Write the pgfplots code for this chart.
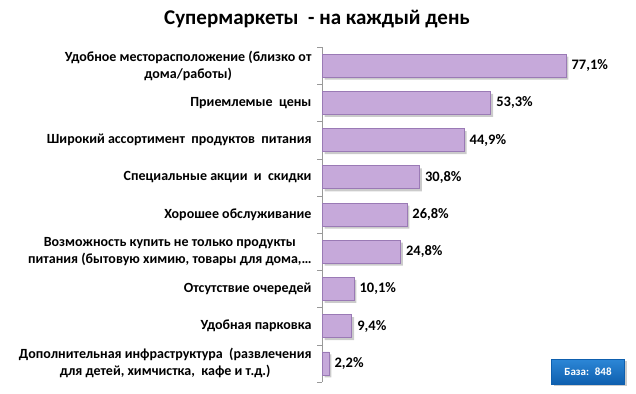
\documentclass[border=0pt]{standalone}
\usepackage{fontspec}
\setmainfont{Carlito}
\usepackage{pgfplots}
\pgfplotsset{compat=1.18}
\definecolor{barfill}{HTML}{C6A9DA}
\definecolor{baredge}{HTML}{9A7AB5}
\definecolor{boxtop}{HTML}{2C86D6}
\definecolor{boxbot}{HTML}{0E5FAE}
\pgfplotstableread{
y x lab
0 77.1 77,1\%
1 53.3 53,3\%
2 44.9 44,9\%
3 30.8 30,8\%
4 26.8 26,8\%
5 24.8 24,8\%
6 10.1 10,1\%
7 9.4 9,4\%
8 2.2 2,2\%
}\datatable
\begin{document}
\begin{tikzpicture}
\path[use as bounding box] (0pt,0pt) rectangle (636pt,393pt);
\node[font=\bfseries\fontsize{21}{25}\selectfont] at (317pt,374pt) {Супермаркеты \ - на каждый день};
\begin{axis}[
  at={(322pt,11pt)}, anchor=south west,
  scale only axis, width=300pt, height=335pt,
  xmin=0, xmax=94.8, ymin=-0.5, ymax=8.5, y dir=reverse,
  axis x line=none, axis y line*=left,
  axis line style={draw=gray!80, -},
  ytick={0,1,2,3,4,5,6,7,8},
  yticklabels={
    {Удобное месторасположение (близко от\\дома/работы)},
    {Приемлемые \ цены},
    {Широкий ассортимент \ продуктов \ питания},
    {Специальные акции \ и \ скидки},
    {Хорошее обслуживание},
    {Возможность купить не только продукты\\питания (бытовую химию, товары для дома,\ldots},
    {Отсутствие очередей},
    {Удобная парковка},
    {Дополнительная инфраструктура \ (развлечения\\для детей, химчистка, \ кафе и т.д.)}},
  major tick length=0pt,
  minor ytick={-0.5,0.5,1.5,2.5,3.5,4.5,5.5,6.5,7.5,8.5},
  minor tick length=5pt, tick align=outside,
  minor tick style={draw=gray!80},
  yticklabel style={font=\bfseries\fontsize{14}{17}\selectfont, align=center, text=black, xshift=-7pt},
  clip=false,
]
\addplot[xbar, bar width=23pt, bar shift=0pt, fill=black!45, draw=none, opacity=0.45, xshift=2.5pt, yshift=-2.5pt] table[x=x, y=y] {\datatable};
\addplot[xbar, bar width=23pt, bar shift=0pt, fill=barfill, draw=baredge, line width=0.6pt,
  nodes near coords, point meta=explicit symbolic,
  every node near coord/.append style={font=\bfseries\fontsize{14.5}{17}\selectfont, text=black, anchor=west, xshift=2pt}]
  table[x=x, y=y, meta=lab] {\datatable};
\end{axis}
\fill[black!40, opacity=0.5] (554pt,7pt) rectangle (627pt,32pt);
\node[top color=boxtop, bottom color=boxbot, draw=boxbot, text=white, minimum width=73pt, minimum height=25pt, inner sep=0pt,
  font=\bfseries\fontsize{11}{12}\selectfont] at (588pt,21pt) {База: \ 848};
\end{tikzpicture}
\end{document}
